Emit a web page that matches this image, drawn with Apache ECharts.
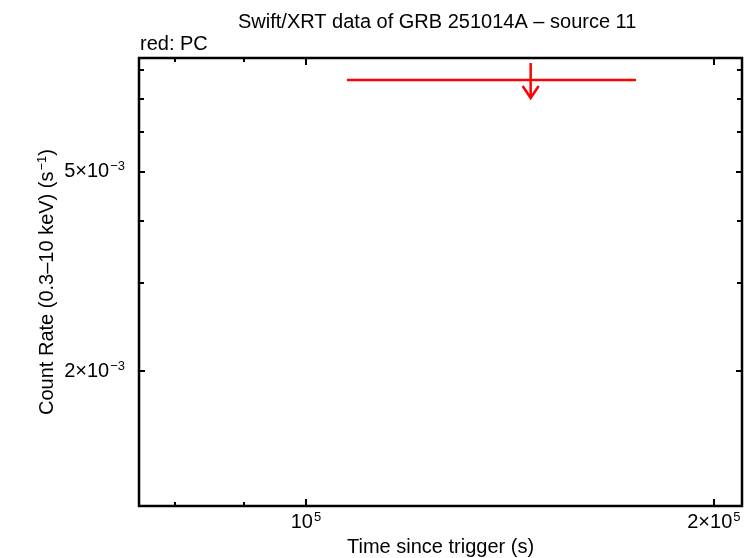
<!DOCTYPE html>
<html>
<head>
<meta charset="utf-8">
<script src="https://cdn.jsdelivr.net/npm/echarts@6/dist/echarts.min.js"></script>
<style>html,body{margin:0;padding:0;background:#fff}#c{width:755px;height:558px}</style>
</head>
<body>
<div id="c"></div>
<script>
// Data (upper limit, PC mode)
const ulTime = [146500];
const ulTimeStart = [107200];
const ulTimeEnd = [175200];
const ulRate = [7.62e-3];

// Axis ranges and ticks
const xRange = [75300, 209800];
const yRange = [1.077e-3, 8.43e-3];
const xMajorTicks = [100000, 200000];
const xMinorTicks = [80000, 90000];
const xTickLabels = ['{b|10}{s|5}', '{b|2×10}{s|5}'];
const yMajorTicks = [2e-3, 5e-3];
const yMinorTicks = [3e-3, 4e-3, 6e-3, 7e-3, 8e-3];
const yTickLabels = ['{b|2×10}{s|−3}', '{b|5×10}{s|−3}'];

const FONT = 'Liberation Sans, Arial, sans-serif';
const rich = {
  b: {fontFamily: FONT, fontSize: 20, color: '#000'},
  s: {fontFamily: FONT, fontSize: 13, color: '#000', padding: [0, 0, 10, 1]}
};

function xAxisDef(pos, ticks, len, labels) {
  return {
    type: 'log', logBase: 10, min: xRange[0], max: xRange[1], position: pos, gridIndex: 0,
    axisLine: {show: false}, splitLine: {show: false}, minorTick: {show: false},
    axisTick: {show: true, inside: true, length: len, customValues: ticks, lineStyle: {color: '#000', width: 2}},
    axisLabel: labels ? {show: true, customValues: xMajorTicks, margin: 5, rich: rich,
      formatter: v => xTickLabels[xMajorTicks.findIndex(t => Math.abs(t - v) / t < 1e-6)] || ''} : {show: false}
  };
}
function yAxisDef(pos, ticks, len, labels) {
  return {
    type: 'log', logBase: 10, min: yRange[0], max: yRange[1], position: pos, gridIndex: 0,
    axisLine: {show: false}, splitLine: {show: false}, minorTick: {show: false},
    axisTick: {show: true, inside: true, length: len, customValues: ticks, lineStyle: {color: '#000', width: 2}},
    axisLabel: labels ? {show: true, customValues: yMajorTicks, margin: 14, rich: rich,
      formatter: v => yTickLabels[yMajorTicks.findIndex(t => Math.abs(t - v) / t < 1e-6)] || ''} : {show: false}
  };
}

const xAxes = [
  Object.assign(xAxisDef('bottom', xMajorTicks, 7, true), {
    name: 'Time since trigger (s)', nameLocation: 'middle', nameGap: 31, nameMoveOverlap: false,
    nameTextStyle: {fontFamily: FONT, fontSize: 20, color: '#000'}
  }),
  xAxisDef('bottom', xMinorTicks, 4, false),
  xAxisDef('top', xMajorTicks, 7, false),
  xAxisDef('top', xMinorTicks, 4, false)
];
const yAxes = [
  Object.assign(yAxisDef('left', yMajorTicks, 6, true), {
    name: '{n|Count Rate (0.3–10 keV) (s}{s|−1}{n|)}', nameLocation: 'middle', nameGap: 80, nameMoveOverlap: false,
    nameTextStyle: {rich: {n: {fontFamily: FONT, fontSize: 20, color: '#000'}, s: {fontFamily: FONT, fontSize: 13, color: '#000', padding: [0, 0, 10, 1]}}}
  }),
  yAxisDef('left', yMinorTicks, 5, false),
  yAxisDef('right', yMajorTicks, 6, false),
  yAxisDef('right', yMinorTicks, 5, false)
];

const ulData = ulTime.map((t, i) => [t, ulTimeStart[i], ulTimeEnd[i], ulRate[i]]);

const chart = echarts.init(document.getElementById('c'), null, {renderer: 'canvas'});
chart.setOption({
  animation: false,
  backgroundColor: '#fff',
  title: [
    {text: 'Swift/XRT data of GRB 251014A – source 11', left: 233, top: 7,
      textStyle: {fontFamily: FONT, fontSize: 20, fontWeight: 'normal', color: '#000'}},
    {text: 'red: PC', left: 135, top: 29,
      textStyle: {fontFamily: FONT, fontSize: 20, fontWeight: 'normal', color: '#000'}}
  ],
  grid: {left: 139, right: 13, top: 58, bottom: 52, outerBoundsMode: 'none', containLabel: false,
    show: true, borderColor: '#000', borderWidth: 2.5, backgroundColor: 'transparent'},
  xAxis: xAxes,
  yAxis: yAxes,
  series: [{
    type: 'custom',
    xAxisIndex: 0, yAxisIndex: 0,
    data: ulData,
    renderItem: function (params, api) {
      const c = api.coord([api.value(0), api.value(3)]);
      const lo = api.coord([api.value(1), api.value(3)]);
      const hi = api.coord([api.value(2), api.value(3)]);
      const st = {stroke: '#ff0000', lineWidth: 2.5, fill: null};
      return {
        type: 'group',
        children: [
          {type: 'line', shape: {x1: lo[0], y1: lo[1], x2: hi[0], y2: hi[1]}, style: st},
          {type: 'line', shape: {x1: c[0], y1: c[1] - 17, x2: c[0], y2: c[1] + 18}, style: st},
          {type: 'polyline', shape: {points: [[c[0] - 8, c[1] + 6], [c[0], c[1] + 18], [c[0] + 8, c[1] + 6]]}, style: st}
        ]
      };
    }
  }]
});
</script>
</body>
</html>
